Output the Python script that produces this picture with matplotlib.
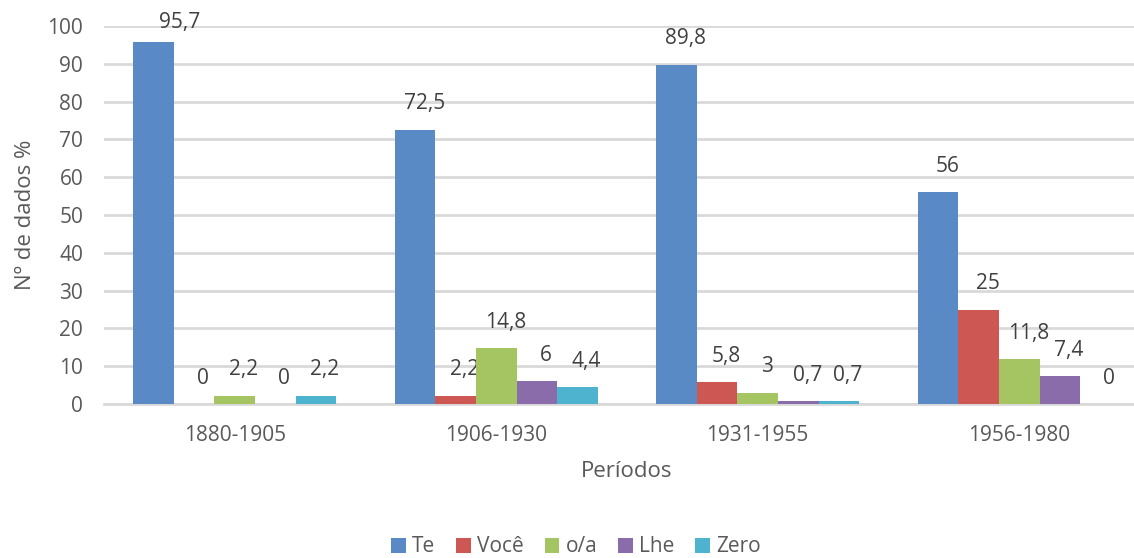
import matplotlib
matplotlib.use("Agg")
import matplotlib.pyplot as plt
import numpy as np

# Data
periods = ["1880-1905", "1906-1930", "1931-1955", "1956-1980"]
series = ["Te", "Você", "o/a", "Lhe", "Zero"]
te = [95.7, 72.5, 89.8, 56]
voce = [0, 2.2, 5.8, 25]
oa = [2.2, 14.8, 3, 11.8]
lhe = [0, 6, 0.7, 7.4]
zero = [2.2, 4.4, 0.7, 0]
values = [te, voce, oa, lhe, zero]

colors = ["#5A8AC6", "#CC5753", "#A5C562", "#8A6CAB", "#4EB3CF"]
text_col = "#595959"

plt.rcParams["font.family"] = ["Open Sans", "DejaVu Sans"]
plt.rcParams["font.size"] = 15

W, H = 1134, 558
fig = plt.figure(figsize=(W / 100, H / 100), dpi=100)
# plot area runs past the right edge of the picture (the original is cropped)
ax = fig.add_axes([104 / W, 1 - 404 / H, 1046 / W, 378 / H])

x = np.arange(len(periods))
w = 0.155
for i, (name, vals) in enumerate(zip(series, values)):
    xs = x + (i - 2) * w
    ax.bar(xs, vals, w, color=colors[i], label=name, zorder=3)
    for xi, v in zip(xs, vals):
        lbl = str(int(v)) if v == int(v) else str(v).replace(".", ",")
        dx, dy = 9, 26
        if v > 93:  # label pushed aside at the top of the plot
            dx, dy = 26, 20
        ax.annotate(lbl, (xi, v), xytext=(dx * 0.72, dy * 0.72),
                    textcoords="offset points", ha="center", va="center",
                    color="#404040", fontsize=15)

ax.set_xlim(-0.5, 3.5)
ax.set_ylim(0, 100)
ax.set_yticks(range(0, 101, 10))
ax.set_xticks(x)
ax.set_xticklabels(periods)
ax.tick_params(axis="both", length=0, colors=text_col, labelsize=15)
ax.tick_params(axis="y", pad=15)
ax.tick_params(axis="x", pad=15)
ax.yaxis.grid(True, color="#D9D9D9", linewidth=2, zorder=0)
for s in ["top", "right", "left"]:
    ax.spines[s].set_visible(False)
ax.spines["bottom"].set_color("#D9D9D9")
ax.spines["bottom"].set_linewidth(2)

ax.set_xlabel("Períodos", color=text_col, fontsize=16, labelpad=11)
ax.set_ylabel("Nº de dados %", color=text_col, fontsize=16, labelpad=8)

fig.legend(loc="center", bbox_to_anchor=(576 / W, 1 - 547 / H), ncol=5,
           frameon=False, handlelength=0.7, handleheight=0.7,
           handletextpad=0.3, columnspacing=1.0, fontsize=15,
           labelcolor=text_col)

fig.savefig("out.png", dpi=100)
